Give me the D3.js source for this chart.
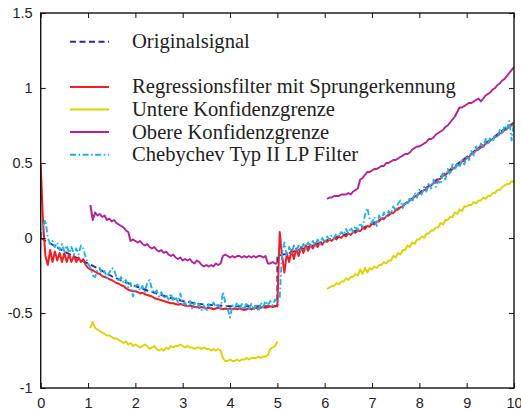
<!DOCTYPE html>
<html>
<head>
<meta charset="utf-8">
<script src="https://cdn.jsdelivr.net/npm/d3@7"></script>
<style>
  html, body { margin: 0; padding: 0; background: #fff; }
  svg { display: block; }
</style>
</head>
<body>
<svg id="chart" width="521" height="411"></svg>
<script>
// ---- data -------------------------------------------------------------
const xTicks = [0, 1, 2, 3, 4, 5, 6, 7, 8, 9, 10];
const yTicks = [-1, -0.5, 0, 0.5, 1, 1.5];
const sampleStep = 0.05;

// original signal (breakpoints, with the step at x = 5)
const originalX = [0, 0.25, 0.5, 0.75, 1, 1.25, 1.5, 1.75, 2, 2.25, 2.5, 2.75, 3, 3.25, 3.5, 3.75, 4, 4.25, 4.5, 4.75, 5,
  5, 5.25, 5.5, 5.75, 6, 6.25, 6.5, 6.75, 7, 7.25, 7.5, 7.75, 8, 8.25, 8.5, 8.75, 9, 9.25, 9.5, 9.75, 10];
const originalY = [0, -0.045, -0.09, -0.13, -0.17, -0.21, -0.255, -0.29, -0.32, -0.35, -0.375, -0.4, -0.42, -0.435, -0.445, -0.45, -0.455, -0.455, -0.455, -0.455, -0.455,
  -0.12, -0.1, -0.075, -0.05, -0.02, 0.005, 0.03, 0.06, 0.095, 0.135, 0.185, 0.24, 0.3, 0.36, 0.42, 0.48, 0.54, 0.6, 0.655, 0.715, 0.77];

// regression filter with step detection, x = 0 ... 10
const regressionStart = 0;
const regressionY = [
  0.49, 0.1, -0.12, -0.18, -0.08, -0.16, -0.09, -0.15, -0.1, -0.16,
  -0.1, -0.16, -0.11, -0.16, -0.12, -0.16, -0.13, -0.16, -0.14, -0.18,
  -0.2, -0.21, -0.215, -0.225, -0.235, -0.24, -0.255, -0.26, -0.265, -0.275,
  -0.28, -0.29, -0.3, -0.305, -0.315, -0.32, -0.335, -0.345, -0.35, -0.355,
  -0.355, -0.36, -0.37, -0.365, -0.375, -0.38, -0.385, -0.39, -0.4, -0.405,
  -0.41, -0.415, -0.42, -0.425, -0.43, -0.435, -0.435, -0.44, -0.445, -0.44,
  -0.445, -0.45, -0.455, -0.45, -0.455, -0.46, -0.46, -0.465, -0.46, -0.465,
  -0.47, -0.465, -0.47, -0.475, -0.47, -0.465, -0.47, -0.475, -0.47, -0.475,
  -0.47, -0.475, -0.47, -0.475, -0.47, -0.475, -0.48, -0.475, -0.47, -0.475,
  -0.47, -0.465, -0.47, -0.465, -0.46, -0.465, -0.46, -0.455, -0.46, -0.455,
  -0.45, 0.04, -0.12, -0.23, -0.1, -0.16, -0.08, -0.14, -0.07, -0.12,
  -0.06, -0.1, -0.05, -0.085, -0.045, -0.07, -0.035, -0.06, -0.03, -0.045,
  -0.02, -0.025, -0.01, -0.02, 0.0, -0.01, 0.01, 0.0, 0.02, 0.01,
  0.03, 0.02, 0.04, 0.035, 0.05, 0.045, 0.065, 0.06, 0.08, 0.075,
  0.095, 0.09, 0.11, 0.11, 0.13, 0.125, 0.145, 0.15, 0.165, 0.165,
  0.185, 0.19, 0.205, 0.21, 0.23, 0.235, 0.25, 0.26, 0.275, 0.285,
  0.295, 0.305, 0.32, 0.325, 0.345, 0.35, 0.365, 0.37, 0.39, 0.395,
  0.415, 0.42, 0.435, 0.445, 0.46, 0.47, 0.485, 0.49, 0.51, 0.515,
  0.535, 0.54, 0.56, 0.565, 0.585, 0.59, 0.605, 0.61, 0.63, 0.635,
  0.65, 0.66, 0.675, 0.68, 0.695, 0.705, 0.72, 0.725, 0.745, 0.75,
  0.77];

// lower confidence bound, two segments
const lowerStartA = 1.05;
const lowerA = [
  -0.6, -0.56, -0.6, -0.61, -0.62, -0.63, -0.64, -0.65, -0.65, -0.66,
  -0.67, -0.67, -0.68, -0.69, -0.7, -0.69, -0.71, -0.7, -0.72, -0.71,
  -0.72, -0.73, -0.72, -0.71, -0.72, -0.74, -0.73, -0.72, -0.74, -0.75,
  -0.74, -0.75, -0.73, -0.74, -0.72, -0.73, -0.72, -0.72, -0.71, -0.72,
  -0.73, -0.72, -0.73, -0.73, -0.74, -0.73, -0.73, -0.74, -0.73, -0.74,
  -0.74, -0.75, -0.74, -0.75, -0.74, -0.75, -0.8, -0.82, -0.82, -0.81,
  -0.82, -0.82, -0.81, -0.82, -0.81, -0.81, -0.8, -0.81, -0.8, -0.8,
  -0.8, -0.79, -0.8, -0.79, -0.79, -0.78, -0.74, -0.73, -0.72, -0.69];
const lowerStartB = 6.05;
const lowerB = [
  -0.34, -0.33, -0.32, -0.32, -0.3, -0.31, -0.29, -0.29, -0.27, -0.28,
  -0.26, -0.26, -0.24, -0.25, -0.21, -0.24, -0.2, -0.23, -0.2, -0.21,
  -0.19, -0.2, -0.18, -0.18, -0.16, -0.17, -0.15, -0.15, -0.12, -0.13,
  -0.1, -0.11, -0.08, -0.08, -0.05, -0.06, -0.03, -0.04, -0.01, -0.01,
  0.01, 0.0, 0.03, 0.03, 0.05, 0.05, 0.07, 0.07, 0.1, 0.09,
  0.12, 0.12, 0.14, 0.14, 0.17, 0.16, 0.19, 0.18, 0.21, 0.21,
  0.22, 0.22, 0.24, 0.23, 0.25, 0.25, 0.27, 0.26, 0.28, 0.28,
  0.3, 0.3, 0.32, 0.32, 0.34, 0.35, 0.36, 0.36, 0.38, 0.37];

// upper confidence bound, two segments
const upperStartA = 1.05;
const upperA = [
  0.22, 0.12, 0.17, 0.15, 0.16, 0.14, 0.15, 0.12, 0.13, 0.11,
  0.12, 0.1, 0.09, 0.08, 0.07, 0.05, 0.04, -0.02, -0.01, -0.02,
  -0.03, -0.02, -0.04, -0.05, -0.04, -0.06, -0.07, -0.06, -0.08, -0.09,
  -0.08, -0.1, -0.09, -0.11, -0.12, -0.11, -0.13, -0.14, -0.13, -0.15,
  -0.14, -0.15, -0.14, -0.16, -0.17, -0.15, -0.16, -0.18, -0.19, -0.18,
  -0.19, -0.18, -0.19, -0.17, -0.18, -0.17, -0.12, -0.11, -0.12, -0.13,
  -0.12, -0.13, -0.12, -0.12, -0.13, -0.12, -0.13, -0.12, -0.13, -0.12,
  -0.13, -0.12, -0.12, -0.13, -0.12, -0.17, -0.17, -0.16, -0.17, -0.17];
const upperStartB = 6.05;
const upperB = [
  0.26, 0.27, 0.27, 0.28, 0.28, 0.28, 0.29, 0.29, 0.29, 0.3,
  0.29, 0.31, 0.32, 0.33, 0.39, 0.4, 0.42, 0.44, 0.44, 0.45,
  0.46, 0.46, 0.47, 0.48, 0.48, 0.5, 0.5, 0.51, 0.52, 0.52,
  0.53, 0.54, 0.55, 0.56, 0.56, 0.57, 0.59, 0.6, 0.61, 0.61,
  0.62, 0.63, 0.64, 0.66, 0.66, 0.67, 0.69, 0.7, 0.71, 0.72,
  0.74, 0.75, 0.77, 0.79, 0.81, 0.84, 0.87, 0.87, 0.88, 0.89,
  0.9, 0.9, 0.91, 0.92, 0.93, 0.91, 0.93, 0.95, 0.96, 0.97,
  0.99, 1.0, 1.02, 1.03, 1.05, 1.06, 1.08, 1.1, 1.12, 1.14];

// Chebyshev type II low-pass output, x = 0 ... 10
const chebyStart = 0;
const chebyY = [
  0.0, 0.08, 0.12, 0.0, -0.04, -0.02, -0.06, -0.03, -0.08, -0.04,
  -0.09, -0.05, -0.1, -0.06, -0.11, -0.07, -0.11, -0.05, -0.07, -0.13,
  -0.17, -0.2, -0.25, -0.26, -0.21, -0.2, -0.25, -0.22, -0.27, -0.23,
  -0.2, -0.21, -0.26, -0.29, -0.26, -0.3, -0.28, -0.33, -0.3, -0.39,
  -0.32, -0.31, -0.35, -0.32, -0.36, -0.3, -0.28, -0.34, -0.37, -0.35,
  -0.39, -0.36, -0.4, -0.38, -0.41, -0.37, -0.42, -0.39, -0.43, -0.37,
  -0.44, -0.43, -0.46, -0.42, -0.47, -0.43, -0.47, -0.44, -0.48, -0.45,
  -0.49, -0.44, -0.47, -0.43, -0.46, -0.44, -0.47, -0.36, -0.43, -0.47,
  -0.53, -0.45, -0.47, -0.43, -0.47, -0.44, -0.48, -0.43, -0.47, -0.44,
  -0.48, -0.45, -0.49, -0.43, -0.46, -0.42, -0.45, -0.42, -0.45, -0.41,
  -0.43, -0.4, -0.1, -0.03, -0.12, -0.06, -0.1, -0.05, -0.09, -0.05,
  -0.08, -0.04, -0.07, -0.03, -0.06, -0.02, -0.06, -0.01, -0.04, 0.0,
  -0.03, 0.01, -0.01, 0.02, 0.0, 0.03, 0.01, 0.04, 0.02, 0.06,
  0.03, 0.07, 0.04, 0.08, 0.05, 0.1, 0.07, 0.15, 0.2, 0.13,
  0.1, 0.14, 0.08, 0.15, 0.12, 0.17, 0.14, 0.18, 0.16, 0.21,
  0.18, 0.23, 0.25, 0.2, 0.24, 0.22, 0.27, 0.24, 0.3, 0.27,
  0.32, 0.29, 0.34, 0.31, 0.37, 0.33, 0.39, 0.34, 0.38, 0.36,
  0.44, 0.39, 0.46, 0.42, 0.49, 0.45, 0.5, 0.47, 0.53, 0.49,
  0.55, 0.52, 0.58, 0.55, 0.61, 0.58, 0.63, 0.6, 0.66, 0.62,
  0.67, 0.64, 0.69, 0.67, 0.72, 0.69, 0.75, 0.72, 0.78, 0.65,
  0.77];

const legendLabels = [
  "Originalsignal",
  "Regressionsfilter mit Sprungerkennung",
  "Untere Konfidenzgrenze",
  "Obere Konfidenzgrenze",
  "Chebychev Typ II LP Filter"
];

// ---- helpers ------------------------------------------------------------
const sampled = (start, ys) => ys.map((v, i) => [+(start + i * sampleStep).toFixed(3), v]);
const paired = (xs, ys) => xs.map((xv, i) => [xv, ys[i]]);

// ---- layout -------------------------------------------------------------
const svg = d3.select("#chart");
const plotLeft = 40.7, plotRight = 514, plotTop = 13, plotBottom = 388;

const x = d3.scaleLinear().domain([0, 10]).range([plotLeft, plotRight]);
const y = d3.scaleLinear().domain([-1, 1.5]).range([plotBottom, plotTop]);

const styles = {
  original:   { color: "#2a2a9c", width: 1.9, dash: "6,3.5" },
  regression: { color: "#f41c22", width: 2,   dash: null },
  lower:      { color: "#dfd200", width: 2,   dash: null },
  upper:      { color: "#b3219a", width: 2,   dash: null },
  cheby:      { color: "#1cb2f2", width: 1.9, dash: "6,2.5,1.6,2.5" }
};

svg.append("defs").append("clipPath").attr("id", "plotClip")
  .append("rect").attr("x", plotLeft).attr("y", plotTop)
  .attr("width", plotRight - plotLeft).attr("height", plotBottom - plotTop);

const line = d3.line().x(d => x(d[0])).y(d => y(d[1]));
const plot = svg.append("g").attr("clip-path", "url(#plotClip)");

function drawSeries(points, st) {
  plot.append("path")
    .datum(points)
    .attr("d", line)
    .attr("fill", "none")
    .attr("stroke", st.color)
    .attr("stroke-width", st.width)
    .attr("stroke-linejoin", "round")
    .attr("stroke-dasharray", st.dash);
}

drawSeries(paired(originalX, originalY), styles.original);
drawSeries(sampled(regressionStart, regressionY), styles.regression);
drawSeries(sampled(lowerStartA, lowerA), styles.lower);
drawSeries(sampled(lowerStartB, lowerB), styles.lower);
drawSeries(sampled(upperStartA, upperA), styles.upper);
drawSeries(sampled(upperStartB, upperB), styles.upper);
drawSeries(sampled(chebyStart, chebyY), styles.cheby);

// ---- axes (ticks on all four sides, pointing inward) --------------------
const fmt = d => String(d);
const tickFont = "'Liberation Sans', Arial, sans-serif";

function styleAxis(g) {
  g.select(".domain").remove();
  g.selectAll(".tick line").attr("stroke", "#222").attr("stroke-width", 1.1);
  g.selectAll(".tick text").attr("fill", "#222")
    .style("font-family", tickFont).style("font-size", "14.5px");
}

svg.append("g").attr("transform", `translate(0,${plotBottom})`)
  .call(d3.axisBottom(x).tickValues(xTicks).tickFormat(fmt).tickSize(-5).tickPadding(10))
  .call(styleAxis);
svg.append("g").attr("transform", `translate(0,${plotTop})`)
  .call(d3.axisTop(x).tickValues(xTicks).tickFormat("").tickSize(-5))
  .call(styleAxis);
svg.append("g").attr("transform", `translate(${plotLeft},0)`)
  .call(d3.axisLeft(y).tickValues(yTicks).tickFormat(fmt).tickSize(-5).tickPadding(8))
  .call(styleAxis);
svg.append("g").attr("transform", `translate(${plotRight},0)`)
  .call(d3.axisRight(y).tickValues(yTicks).tickFormat("").tickSize(-5))
  .call(styleAxis);

svg.append("rect")
  .attr("x", plotLeft).attr("y", plotTop)
  .attr("width", plotRight - plotLeft).attr("height", plotBottom - plotTop)
  .attr("fill", "none").attr("stroke", "#111").attr("stroke-width", 1.4);

// ---- legend -------------------------------------------------------------
const legendRows = [
  { label: legendLabels[0], st: styles.original, row: 0 },
  { label: legendLabels[1], st: styles.regression, row: 2 },
  { label: legendLabels[2], st: styles.lower, row: 3 },
  { label: legendLabels[3], st: styles.upper, row: 4 },
  { label: legendLabels[4], st: styles.cheby, row: 5 }
];
const legend = svg.append("g");
const rowY = r => 41.7 + r * 22.6;
legendRows.forEach(d => {
  legend.append("line")
    .attr("x1", 70).attr("x2", 109)
    .attr("y1", rowY(d.row)).attr("y2", rowY(d.row))
    .attr("stroke", d.st.color).attr("stroke-width", d.st.width)
    .attr("stroke-dasharray", d.st.dash);
  legend.append("text")
    .attr("x", 132).attr("y", rowY(d.row) + 6.5)
    .attr("fill", "#222")
    .style("font-family", "'Liberation Serif', 'Times New Roman', serif")
    .style("font-size", "20.6px")
    .text(d.label);
});
</script>
</body>
</html>
